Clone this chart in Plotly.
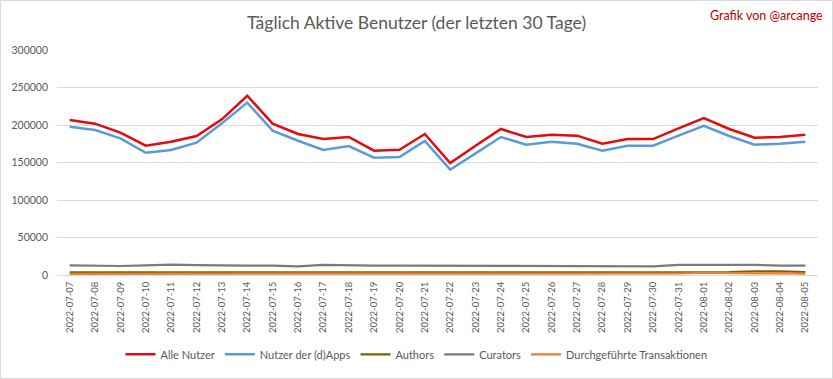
import plotly.graph_objects as go

dates = ["2022-07-07","2022-07-08","2022-07-09","2022-07-10","2022-07-11","2022-07-12","2022-07-13",
         "2022-07-14","2022-07-15","2022-07-16","2022-07-17","2022-07-18","2022-07-19","2022-07-20",
         "2022-07-21","2022-07-22","2022-07-23","2022-07-24","2022-07-25","2022-07-26","2022-07-27",
         "2022-07-28","2022-07-29","2022-07-30","2022-07-31","2022-08-01","2022-08-02","2022-08-03",
         "2022-08-04","2022-08-05"]

alle_nutzer = [206700, 201800, 189800, 172400, 177800, 185300, 207500, 239000, 201800, 188000,
               181300, 184000, 165800, 167000, 188000, 149300, 172400, 194700, 184000, 187000,
               185800, 175000, 181300, 181300, 195500, 209300, 194700, 183000, 184000, 187000]
dapps_nutzer = [197800, 193300, 182200, 163000, 166700, 176400, 202200, 229800, 192400, 179000,
                166700, 172000, 156400, 157300, 178700, 140400, 162200, 184000, 173800, 177800,
                175000, 165800, 172400, 172400, 185800, 199000, 185300, 173800, 175000, 177800]
authors = [3600, 3500, 3500, 3500, 3600, 3600, 3500, 3600, 3500, 3500,
           3500, 3500, 3500, 3500, 3500, 3400, 3400, 3500, 3500, 3500,
           3500, 3400, 3400, 3500, 3600, 4300, 3900, 5000, 5000, 3800]
curators = [12800, 12000, 12000, 12800, 13800, 13200, 12600, 12600, 12600, 11600,
            13600, 12600, 12600, 12600, 12600, 12600, 11800, 12600, 12600, 12600,
            12600, 12600, 12600, 11600, 13400, 13600, 12800, 13400, 12600, 12600]
transaktionen = [1600, 1600, 1600, 1600, 1600, 1600, 1600, 1600, 1600, 1600,
                 1600, 1600, 1600, 1600, 1600, 1600, 1600, 1700, 2600, 2400,
                 1700, 1600, 1600, 1600, 2000, 3000, 2200, 2200, 2400, 1800]

series = [
    ("Alle Nutzer", alle_nutzer, "#E30B0B", 2.5),
    ("Nutzer der (d)Apps", dapps_nutzer, "#5B9BD5", 2.5),
    ("Authors", authors, "#7F6000", 2.2),
    ("Curators", curators, "#7B7B7B", 2.2),
    ("Durchgeführte Transaktionen", transaktionen, "#ED7D31", 2.2),
]

fig = go.Figure()
for name, vals, color, w in series:
    fig.add_trace(go.Scatter(x=dates, y=vals, mode="lines", name=name,
                             line=dict(color=color, width=w)))

font_family = "Lato, 'Open Sans', sans-serif"
fig.update_layout(
    width=833, height=379,
    margin=dict(l=57, r=15, t=50, b=104, autoexpand=False),
    paper_bgcolor="white", plot_bgcolor="white",
    font=dict(family=font_family, color="#595959", size=11),
    title=dict(text="Täglich Aktive Benutzer (der letzten 30 Tage)",
               x=0.5, xanchor="center", xref="container", y=0.94, yanchor="middle",
               font=dict(size=17.5, color="#595959", family=font_family)),
    showlegend=True,
    legend=dict(orientation="h", xref="container", x=0.5, xanchor="center",
                yref="container", y=0.065, yanchor="middle",
                font=dict(size=11, color="#595959"),
                itemwidth=30, tracegroupgap=0),
    xaxis=dict(type="category", tickangle=-90, showgrid=False, automargin=False,
               range=[-0.5, len(dates) - 0.5],
               showline=True, linecolor="#D9D9D9", linewidth=1,
               ticks="", ticklabelstandoff=2, tickfont=dict(size=9.5, color="#595959")),
    yaxis=dict(range=[0, 300000], dtick=50000, tickformat="d", automargin=False,
               showgrid=True, gridcolor="#D9D9D9", gridwidth=1,
               zeroline=False, showline=False, ticks="", ticklabelstandoff=8,
               tickfont=dict(size=10.5, color="#595959")),
    annotations=[dict(text="Grafik von @arcange", xref="paper", yref="paper",
                      x=(825 - 57) / 761, y=(275 - 15) / 225, xanchor="right", yanchor="middle",
                      showarrow=False, font=dict(size=12.5, color="#C00000", family=font_family))],
)

fig.add_shape(type="rect", xref="paper", yref="paper",
              x0=-56.5/761, x1=1 + 14.5/761, y0=-103.5/225, y1=1 + 49.5/225,
              line=dict(color="#D9D9D9", width=1), fillcolor="rgba(0,0,0,0)", layer="below")

fig.write_html("out.html", config={"displayModeBar": False},
               post_script="document.body.style.margin='0px';document.body.style.overflow='hidden';")
